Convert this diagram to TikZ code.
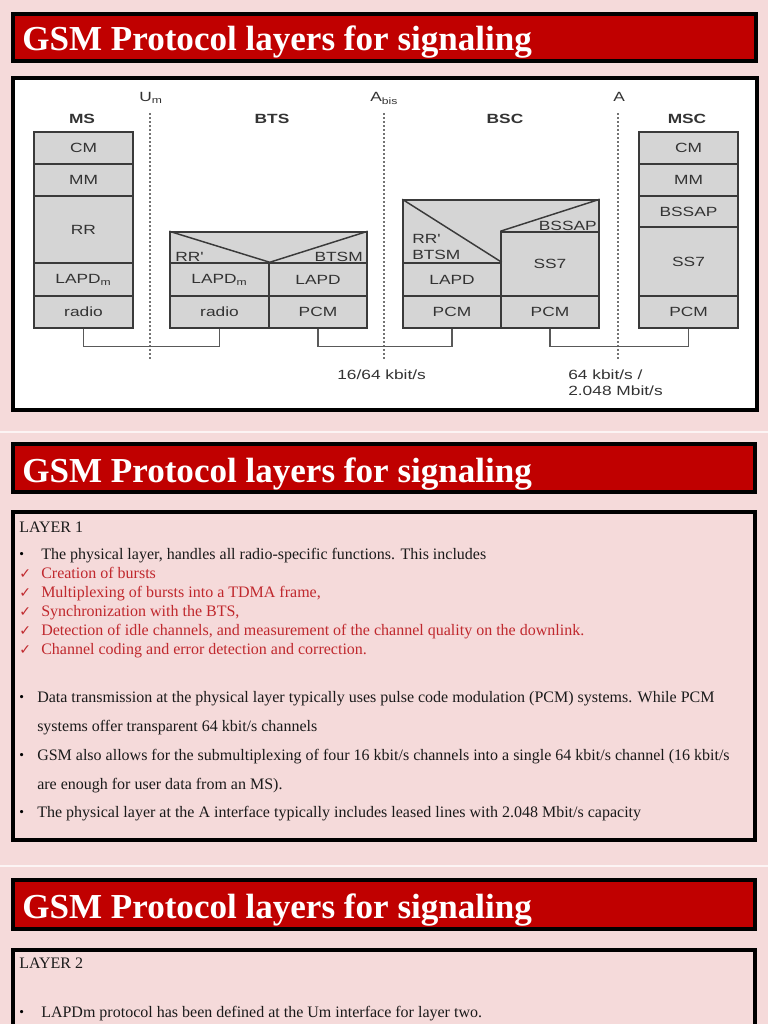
\documentclass[tikz,border=0pt]{standalone}
\usepackage{fontspec}
\usepackage{graphicx}
\setmainfont{Liberation Serif}
\newfontfamily\dsans{Liberation Sans}
\newfontfamily\dvs{DejaVu Sans}
\definecolor{bg}{HTML}{F5DADA}
\definecolor{titlered}{HTML}{C00000}
\definecolor{cellgray}{HTML}{D5D5D5}
\definecolor{cellline}{HTML}{3A3A3A}
\definecolor{dtext}{HTML}{333333}
\definecolor{redtext}{HTML}{C0282D}
\definecolor{bodytext}{HTML}{1A1A1A}
\newcommand\dt[1]{\scalebox{1.3}[1]{#1}}
\newcommand\ap{{\char"27}}
\begin{document}
\begin{tikzpicture}[x=0.75pt,y=-0.75pt,
  cell/.style={draw=cellline, fill=cellgray, line width=1.1pt, inner sep=0pt,
    font=\dsans\fontsize{10}{12}\selectfont, text=dtext},
  lbl/.style={inner sep=0pt, font=\dsans\fontsize{10}{12}\selectfont, text=dtext},
  ent/.style={inner sep=0pt, font=\dsans\bfseries\fontsize{10}{12}\selectfont, text=dtext},
  conn/.style={draw=black!65, line width=0.8pt},
  iface/.style={draw=black!55, line width=0.9pt, dash pattern=on 1.5pt off 1.5pt},
  titlebar/.style={draw=black, line width=2.4pt, fill=titlered},
  titletext/.style={inner sep=0pt, anchor=base west, text=white,
    font=\bfseries\fontsize{26.3}{30}\selectfont},
  panel/.style={draw=black, line width=2.4pt},
  body/.style={inner sep=0pt, anchor=base west, text=bodytext,
    font=\fontsize{12}{14}\selectfont},
  redbody/.style={body, text=redtext},
  bul/.style={inner sep=0pt, anchor=base west, text=black,
    font=\fontsize{10}{12}\selectfont},
  chk/.style={inner sep=0pt, anchor=base west, text=redtext,
    font=\dvs\fontsize{10.5}{12}\selectfont},
  sep/.style={draw=white!70!bg, line width=1.2pt}
]
\useasboundingbox (0,0) rectangle (768,1024);
\clip (0,0) rectangle (768,1024);
\fill[bg] (0,0) rectangle (768,1024);
\draw[sep] (0,432) -- (768,432);
\draw[sep] (0,866) -- (768,866);

% ---------- Slide 1 ----------
\draw[titlebar] (13,14) rectangle (756,61);
\node[titletext] (t1) at (22,51) {GSM Protocol layers for signaling};
\draw[panel, fill=white] (13,78) rectangle (757,410);

% interfaces
\draw[iface] (150,113) -- (150,360);
\draw[iface] (384,113) -- (384,360);
\draw[iface] (618,113) -- (618,360);
\node[lbl, anchor=base west] (um) at (139,102) {\dt{U\textsubscript{m}}};
\node[lbl, anchor=base west] (abis) at (370,102) {\dt{A\textsubscript{bis}}};
\node[lbl, anchor=base west] (aif) at (613,101) {\dt{A}};

% entity labels
\node[ent] (ms) at (82,119) {\dt{MS}};
\node[ent] (bts) at (272,119) {\dt{BTS}};
\node[ent] (bsc) at (505,119) {\dt{BSC}};
\node[ent] (msc) at (687,119) {\dt{MSC}};

% MS stack
\node[cell, minimum width=74.25pt, minimum height=24pt] (mscm) at (83.5,148) {\dt{CM}};
\node[cell, minimum width=74.25pt, minimum height=24pt] (msmm) at (83.5,180) {\dt{MM}};
\node[cell, minimum width=74.25pt, minimum height=50.25pt] (msrr) at (83.5,229.5) {\dt{RR}};
\node[cell, minimum width=74.25pt, minimum height=24.75pt] (mslapd) at (83.5,279.5) {\dt{LAPD\textsubscript{m}}};
\node[cell, minimum width=74.25pt, minimum height=24pt] (msradio) at (83.5,312) {\dt{radio}};

% BTS stack
\node[cell, minimum width=147.75pt, minimum height=23.25pt] (btstop) at (268.5,247.5) {};
\node[cell, minimum width=74.25pt, minimum height=24.75pt] (btslapdm) at (219.5,279.5) {\dt{LAPD\textsubscript{m}}};
\node[cell, minimum width=73.5pt, minimum height=24.75pt] (btslapd) at (318,279.5) {\dt{LAPD}};
\node[cell, minimum width=74.25pt, minimum height=24pt] (btsradio) at (219.5,312) {\dt{radio}};
\node[cell, minimum width=73.5pt, minimum height=24pt] (btspcm) at (318,312) {\dt{PCM}};
\draw[draw=cellline, line width=1.1pt] (btstop.north west) -- (btslapdm.north east) -- (btstop.north east);
\node[lbl, anchor=base west] (btsrr) at (175,261) {\dt{RR\ap}};
\node[lbl, anchor=base east] (btsbtsm) at (363,261) {\dt{BTSM}};

% BSC stack
\node[cell, minimum width=147pt, minimum height=47.25pt] (bsctop) at (501,231.5) {};
\node[cell, minimum width=73.5pt, minimum height=24.75pt] (bsclapd) at (452,279.5) {\dt{LAPD}};
\node[cell, minimum width=73.5pt, minimum height=48pt] (bscss7) at (550,264) {\dt{SS7}};
\node[cell, minimum width=73.5pt, minimum height=24pt] (bscpcma) at (452,312) {\dt{PCM}};
\node[cell, minimum width=73.5pt, minimum height=24pt] (bscpcmb) at (550,312) {\dt{PCM}};
\draw[draw=cellline, line width=1.1pt] (bsctop.north west) -- (bsclapd.north east);
\draw[draw=cellline, line width=1.1pt] (bscss7.north west) -- (bsctop.north east);
\node[lbl, anchor=west] (bscrr) at (412,239) {\dt{RR\ap}};
\node[lbl, anchor=west] (bscbtsm) at (412,255) {\dt{BTSM}};
\node[lbl, anchor=east] (bscbssap) at (597,226) {\dt{BSSAP}};

% MSC stack
\node[cell, minimum width=74.25pt, minimum height=24pt] (msccm) at (688.5,148) {\dt{CM}};
\node[cell, minimum width=74.25pt, minimum height=24pt] (mscmm) at (688.5,180) {\dt{MM}};
\node[cell, minimum width=74.25pt, minimum height=23.25pt] (mscbssap) at (688.5,211.5) {\dt{BSSAP}};
\node[cell, minimum width=74.25pt, minimum height=51.75pt] (mscss7) at (688.5,261.5) {\dt{SS7}};
\node[cell, minimum width=74.25pt, minimum height=24pt] (mscpcm) at (688.5,312) {\dt{PCM}};

% connectors
\draw[conn] (msradio.south) -- ++(0,18) -| (btsradio.south);
\draw[conn] (btspcm.south) -- ++(0,18) -| (bscpcma.south);
\draw[conn] (bscpcmb.south) -- ++(0,18) -| (mscpcm.south);

% bit rates
\node[lbl, anchor=base west] (r1) at (337,379) {\dt{16/64 kbit/s}};
\node[lbl, anchor=base west] (r2) at (568,379) {\dt{64 kbit/s /}};
\node[lbl, anchor=base west] (r3) at (568,395) {\dt{2.048 Mbit/s}};

% ---------- Slide 2 ----------
\draw[titlebar] (13,444) rectangle (755,492);
\node[titletext] (t2) at (22,482) {GSM Protocol layers for signaling};
\draw[panel] (13,512) rectangle (755,840);
\node[body] (l1) at (19,532) {LAYER 1};
\node[bul] (b1) at (19,558) {•};
\node[body] (p1) at (41,559) {The physical layer, handles all radio-specific functions. This includes};
\node[chk] (c1) at (19,578) {✓};
\node[redbody] (q1) at (41,578) {Creation of bursts};
\node[chk] (c2) at (19,597) {✓};
\node[redbody] (q2) at (41,597) {Multiplexing of bursts into a TDMA frame,};
\node[chk] (c3) at (19,616) {✓};
\node[redbody] (q3) at (41,616) {Synchronization with the BTS,};
\node[chk] (c4) at (19,635) {✓};
\node[redbody] (q4) at (41,635) {Detection of idle channels, and measurement of the channel quality on the downlink.};
\node[chk] (c5) at (19,654) {✓};
\node[redbody] (q5) at (41,654) {Channel coding and error detection and correction.};

\node[bul] (b2) at (19,701) {•};
\node[body] (p2) at (37,702) {Data transmission at the physical layer typically uses pulse code modulation (PCM) systems. While PCM};
\node[body] (p3) at (37,731) {systems offer transparent 64 kbit/s channels};
\node[bul] (b3) at (19,759) {•};
\node[body] (p4) at (37,760) {GSM also allows for the submultiplexing of four 16 kbit/s channels into a single 64 kbit/s channel (16 kbit/s};
\node[body] (p5) at (37,789) {are enough for user data from an MS).};
\node[bul] (b4) at (19,816) {•};
\node[body] (p6) at (37,817) {The physical layer at the A interface typically includes leased lines with 2.048 Mbit/s capacity};

% ---------- Slide 3 ----------
\draw[titlebar] (13,880) rectangle (755,929);
\node[titletext] (t3) at (22,918) {GSM Protocol layers for signaling};
\draw[panel] (13,950) rectangle (755,1040);
\node[body] (l2) at (19,968) {LAYER 2};
\node[bul] (b5) at (19,1016) {•};
\node[body] (p7) at (41,1017) {LAPDm protocol has been defined at the Um interface for layer two.};
\end{tikzpicture}
\end{document}
